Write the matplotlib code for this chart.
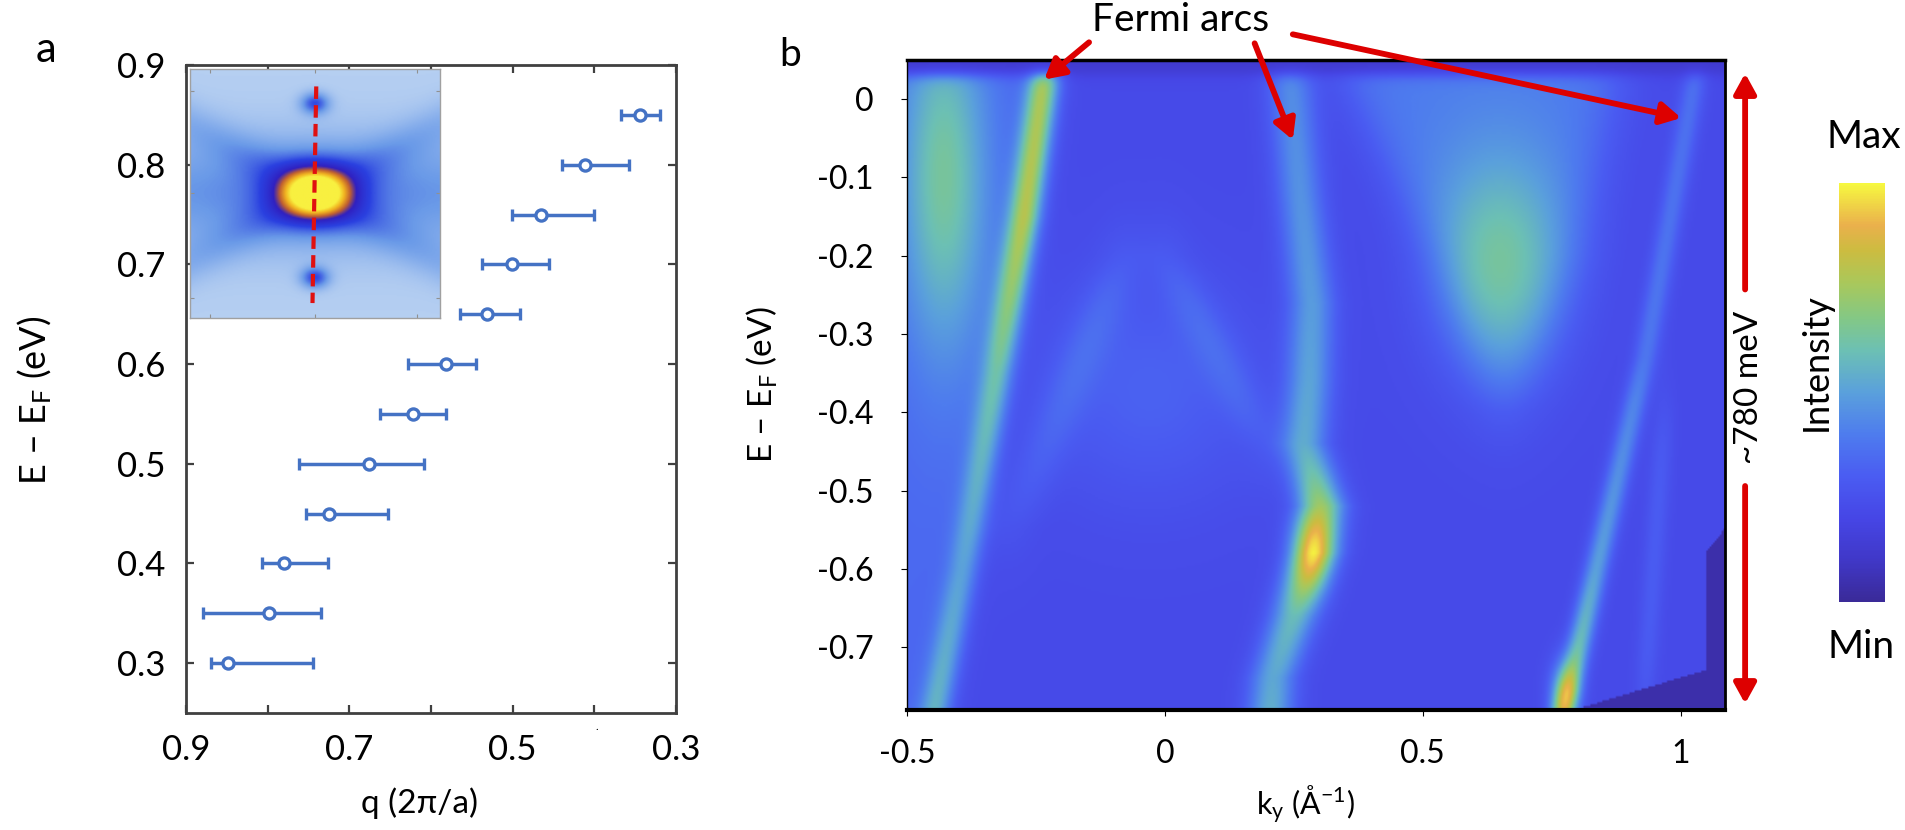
import numpy as np
import matplotlib
matplotlib.use("Agg")
import matplotlib.pyplot as plt
from matplotlib.colors import LinearSegmentedColormap
from matplotlib.path import Path

plt.rcParams['font.family'] = ['Lato', 'DejaVu Sans']
plt.rcParams['mathtext.fontset'] = 'custom'
plt.rcParams['mathtext.rm'] = 'Lato'
plt.rcParams['mathtext.it'] = 'Lato:italic'
plt.rcParams['axes.unicode_minus'] = False

# ---- panel a: dispersion q(E) with asymmetric error bars ----
energy = [0.30, 0.35, 0.40, 0.45, 0.50, 0.55, 0.60, 0.65, 0.70, 0.75, 0.80, 0.85]
q_center = [0.848, 0.798, 0.780, 0.725, 0.676, 0.622, 0.582, 0.532, 0.501, 0.465, 0.411, 0.344]
q_high = [0.870, 0.879, 0.807, 0.753, 0.762, 0.663, 0.628, 0.565, 0.537, 0.501, 0.439, 0.367]
q_low = [0.744, 0.735, 0.726, 0.653, 0.608, 0.582, 0.545, 0.491, 0.456, 0.401, 0.357, 0.320]

# ---- panel b: ARPES features (E in eV, k in 1/A) ----
arc_left_E = [0.03, -0.15, -0.35, -0.60, -0.78]
arc_left_k = [-0.234, -0.273, -0.326, -0.392, -0.446]
arc_left_amp = [0.48, 0.50, 0.30, 0.22, 0.28]
center_E = [0.03, -0.12, -0.26, -0.36, -0.44, -0.52, -0.58, -0.66, -0.74, -0.78]
center_k = [0.242, 0.262, 0.285, 0.28, 0.27, 0.305, 0.29, 0.25, 0.21, 0.205]
center_amp = [0.22, 0.24, 0.26, 0.28, 0.30, 0.45, 0.55, 0.36, 0.30, 0.32]
outer_E = [0.03, -0.33, -0.383, -0.60, -0.757, -0.78]
outer_k = [1.03, 0.933, 0.914, 0.838, 0.784, 0.775]
outer_amp = [0.14, 0.16, 0.20, 0.28, 0.42, 0.42]
faint_right_E = [-0.40, -0.78]
faint_right_k = [0.97, 0.93]
lambda_left_E = [-0.20, -0.55]
lambda_left_k = [-0.08, -0.30]
lambda_right_E = [-0.20, -0.45]
lambda_right_k = [0.00, 0.20]
cone_E = [0.03, -0.20, -0.40]
cone_left = [0.35, 0.52, 0.64]
cone_right = [0.88, 0.80, 0.68]
spots = [  # k0, E0, sigma_k, sigma_E, amplitude
    (0.285, -0.575, 0.028, 0.040, 0.22),
    (0.775, -0.760, 0.020, 0.030, 0.30),
    (-0.43, -0.100, 0.060, 0.160, 0.30),
    (0.65, -0.210, 0.090, 0.100, 0.24),
    (-0.03, -0.370, 0.150, 0.100, 0.10),
]
dark_corner_k = [1.05, 1.05, 0.80, 1.086, 1.086]
dark_corner_E = [-0.58, -0.73, -0.78, -0.78, -0.55]

arpes_cmap = LinearSegmentedColormap.from_list("arpes", [
    (0.00, "#3a2a98"), (0.10, "#4038c8"), (0.20, "#4646e6"), (0.30, "#4a5cf2"),
    (0.40, "#4e7cee"), (0.50, "#5aa0dc"), (0.60, "#6cc0b4"), (0.68, "#84c884"),
    (0.76, "#a8c85c"), (0.84, "#ccbc40"), (0.90, "#eab04c"), (1.00, "#f6f840")])
inset_cmap = LinearSegmentedColormap.from_list("inset", [
    (0.0, "#ffffff"), (0.2, "#c8dcf4"), (0.4, "#6a9ae8"), (0.55, "#2a40e0"),
    (0.7, "#3020c0"), (0.8, "#c06030"), (0.9, "#f0b020"), (1.0, "#f8f040")])

W, H = 1906, 830
fig = plt.figure(figsize=(W / 100, H / 100), dpi=100)
blue = "#4472c4"
red = "#dd0000"

# ================= panel a =================
axa = fig.add_axes([186 / W, 1 - 713 / H, 490 / W, 648 / H])
qc = np.array(q_center)
xerr = [qc - np.array(q_low), np.array(q_high) - qc]
axa.errorbar(q_center, energy, xerr=xerr, fmt="o", color=blue, ecolor=blue,
             elinewidth=2.5, capsize=4, capthick=2.5, ms=8, mew=2.4,
             mfc="white", mec=blue)
axa.set_xlim(0.9, 0.3)
axa.set_ylim(0.25, 0.9)
axa.set_xticks([0.9, 0.7, 0.5, 0.3])
axa.set_xticklabels(["0.9", "0.7", "0.5", "0.3"])
axa.set_xticks([0.8, 0.6, 0.4], minor=True)
axa.set_yticks([0.3, 0.4, 0.5, 0.6, 0.7, 0.8, 0.9])
axa.set_yticklabels(["0.3", "0.4", "0.5", "0.6", "0.7", "0.8", "0.9"])
for which in ("major", "minor"):
    axa.tick_params(which=which, direction="in", top=True, right=True,
                    length=6, width=1.6, color="#404040")
axa.tick_params(which="major", labelsize=25, pad=15)
for s in axa.spines.values():
    s.set_linewidth(2.0)
    s.set_color("#404040")
axa.set_xlabel("q (2π/a)", fontsize=24)
axa.xaxis.set_label_coords(0.476, -0.115)
axa.set_ylabel("E – E$_\\mathrm{F}$ (eV)", fontsize=26)
axa.yaxis.set_label_coords(-0.27, 0.483)

# inset (photoemission map, smooth rendering)
ins = fig.add_axes([190 / W, 1 - 318 / H, 250 / W, 249 / H])
u, v = np.meshgrid(np.linspace(0, 1, 220), np.linspace(0, 1, 220))
dens = 0.24 + 0.16 * np.exp(-0.5 * ((v - 0.5) / 0.16) ** 2)
dens += 0.08 * np.exp(-0.5 * ((v - 0.5 - 0.55 * (u - 0.5)) / 0.07) ** 2)
dens += 0.08 * np.exp(-0.5 * ((v - 0.5 + 0.55 * (u - 0.5)) / 0.07) ** 2)
dens += 0.12 * np.exp(-0.5 * (((u - 0.5) / 0.2) ** 2 + ((v - 0.5) / 0.12) ** 2))
dens += 0.28 * np.exp(-0.5 * (((u - 0.5) / 0.04) ** 2 + ((v - 0.86) / 0.03) ** 2))
dens += 0.28 * np.exp(-0.5 * (((u - 0.5) / 0.04) ** 2 + ((v - 0.16) / 0.03) ** 2))
dens += 0.60 * np.exp(-0.5 * (((u - 0.5) / 0.10) ** 2 + ((v - 0.5) / 0.075) ** 2))
ins.imshow(np.clip(dens, 0, 1), extent=[0, 1, 0, 1], origin="lower",
           cmap=inset_cmap, vmin=0, vmax=1, aspect="auto", interpolation="bilinear")
ins.plot([0.505, 0.49], [0.93, 0.06], ls=(0, (3, 1.5)), color="#e01010", lw=3)
ins.set_xlim(0, 1)
ins.set_ylim(0, 1)
ins.set_xticks([0.08, 0.5, 0.91])
ins.set_yticks([0.08, 0.5, 0.91])
ins.tick_params(direction="in", length=3, width=0.8, color="#909090",
                labelbottom=False, labelleft=False, top=True, right=True)
for s in ins.spines.values():
    s.set_color("#a0a0a0")
    s.set_linewidth(1.0)

# ================= panel b =================
axb = fig.add_axes([907 / W, 1 - 710 / H, 818 / W, 650 / H])
k = np.linspace(-0.5, 1.086, 480)
E = np.linspace(-0.78, 0.05, 330)
K, EE = np.meshgrid(k, E)


def sig(x):
    return 1 / (1 + np.exp(-x))


def band(Ep, kp, ap, width, lo=-5.0, hi=5.0):
    Ep = np.asarray(Ep)
    o = np.argsort(Ep)
    kc = np.interp(EE, Ep[o], np.asarray(kp)[o])
    amp = np.interp(EE, Ep[o], np.asarray(ap)[o])
    amp = amp * sig((EE - lo) / 0.03) * sig((hi - EE) / 0.03)
    return amp * np.exp(-0.5 * ((K - kc) / width) ** 2), kc


I = np.full_like(K, 0.22)
b1, kc_left = band(arc_left_E, arc_left_k, arc_left_amp, 0.022)
I += b1 + 0.12 * sig((kc_left - K) / 0.02)
I += band(center_E, center_k, center_amp, 0.032)[0]
I += band(outer_E, outer_k, outer_amp, 0.017)[0]
I += band(faint_right_E, faint_right_k, [0.08, 0.08], 0.015, -0.78, -0.40)[0]
I += band(lambda_left_E, lambda_left_k, [0.09, 0.07], 0.035, -0.55, -0.20)[0]
I += band(lambda_right_E, lambda_right_k, [0.09, 0.07], 0.035, -0.45, -0.20)[0]
cl = np.interp(EE, cone_E[::-1], cone_left[::-1])
cr = np.interp(EE, cone_E[::-1], cone_right[::-1])
I += 0.18 * sig((K - cl) / 0.03) * sig((cr - K) / 0.03) * sig((EE + 0.40) / 0.03)
for k0, E0, sk, sE, a in spots:
    I += a * np.exp(-0.5 * (((K - k0) / sk) ** 2 + ((EE - E0) / sE) ** 2))
# Fermi cut-off
fermi = sig(-(EE - 0.033) / 0.005)
I = 0.12 + (I - 0.12) * fermi
# empty corner of the detector image
corner = Path(np.column_stack([dark_corner_k, dark_corner_E]))
inside = corner.contains_points(np.column_stack([K.ravel(), EE.ravel()])).reshape(K.shape)
I[inside] = 0.04

im = axb.imshow(np.clip(I, 0, 1), extent=[-0.5, 1.086, -0.78, 0.05], origin="lower",
                cmap=arpes_cmap, vmin=0, vmax=1, aspect="auto", interpolation="bilinear")
axb.set_xlim(-0.5, 1.086)
axb.set_ylim(-0.78, 0.05)
axb.set_xticks([-0.5, 0, 0.5, 1])
axb.set_xticklabels(["-0.5", "0", "0.5", "1"])
axb.set_yticks([0, -0.1, -0.2, -0.3, -0.4, -0.5, -0.6, -0.7])
axb.set_yticklabels(["0", "-0.1", "-0.2", "-0.3", "-0.4", "-0.5", "-0.6", "-0.7"])
axb.tick_params(direction="out", length=4, width=0.8, labelsize=23)
axb.tick_params(axis="y", pad=20)
axb.tick_params(axis="x", pad=17)
axb.spines["bottom"].set_linewidth(3.0)
axb.spines["top"].set_linewidth(2.5)
axb.spines["right"].set_linewidth(2.0)
axb.spines["left"].set_linewidth(1.0)
axb.set_xlabel("k$_\\mathrm{y}$ (Å$^{\\mathrm{-1}}$)", fontsize=22)
axb.xaxis.set_label_coords(0.487, -0.113)
axb.set_ylabel("E – E$_\\mathrm{F}$ (eV)", fontsize=24)
axb.yaxis.set_label_coords(-0.155, 0.5)

# Fermi arc annotations
axb.text(0.03, 0.1006, "Fermi arcs", ha="center", va="center", fontsize=28, clip_on=False)
arrow = dict(arrowstyle="-|>,head_length=0.6,head_width=0.33", color=red, lw=4.2,
             mutation_scale=20, shrinkA=0, shrinkB=0)
for (ks, es), (kt, et) in [((-0.147, 0.0726), (-0.234, 0.025)),
                           ((0.174, 0.0713), (0.248, -0.052)),
                           ((0.248, 0.0828), (1.001, -0.024))]:
    axb.annotate("", xy=(kt, et), xytext=(ks, es), arrowprops=arrow, annotation_clip=False)

# energy window arrow
axb.annotate("", xy=(1.125, 0.033), xytext=(1.125, -0.243), arrowprops=arrow,
             annotation_clip=False)
axb.annotate("", xy=(1.125, -0.772), xytext=(1.125, -0.494), arrowprops=arrow,
             annotation_clip=False)
axb.text(1.133, -0.368, "~780 meV", rotation=90, ha="center", va="center",
         fontsize=24, clip_on=False)

# colour bar
cax = fig.add_axes([1839 / W, 1 - 602 / H, 46 / W, 419 / H])
cb = fig.colorbar(im, cax=cax, ticks=[])
cb.outline.set_visible(False)
fig.text(1864 / W, 1 - 137 / H, "Max", ha="center", va="center", fontsize=28)
fig.text(1861 / W, 1 - 647 / H, "Min", ha="center", va="center", fontsize=28)
fig.text(1816 / W, 1 - 362 / H, "Intensity", rotation=90, ha="center", va="center",
         fontsize=26)

fig.text(46 / W, 1 - 50 / H, "a", ha="center", va="center", fontsize=30)
fig.text(790 / W, 1 - 55 / H, "b", ha="center", va="center", fontsize=28)
fig.text(597 / W, 1 - 727 / H, ".", ha="center", va="center", fontsize=8)

fig.savefig("out.png", dpi=100)
